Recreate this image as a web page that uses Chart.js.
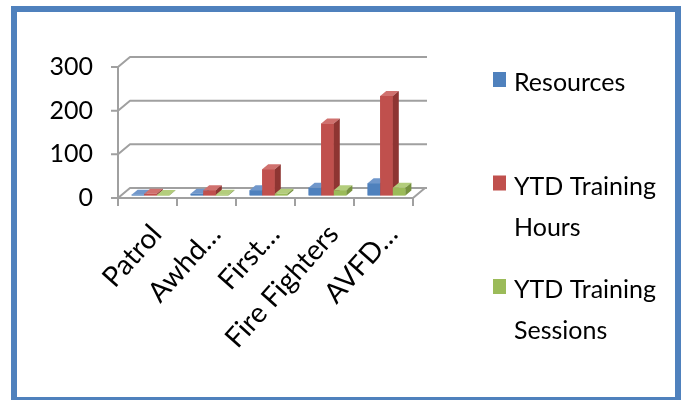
<!DOCTYPE html>
<html>
<head>
<meta charset="utf-8">
<script src="https://cdn.jsdelivr.net/npm/chart.js@4/dist/chart.umd.min.js"></script>
<style>
  body { margin: 0; background: #fff; }
  #wrap { position: relative; width: 683px; height: 400px; overflow: hidden; }
  #frame { position: absolute; left: 11px; top: 6px; width: 658px; height: 385px; border: 6px solid #4F81BD; }
  #wrap canvas { position: absolute; left: 0; top: 0; }
</style>
</head>
<body>
<div id="wrap">
  <div id="frame"></div>
  <canvas id="myChart" width="683" height="400"></canvas>
</div>
<script>
const categories = ["Patrol", "Awhd…", "First…", "Fire Fighters", "AVFD…"];
const resources = [2, 4, 12, 18, 28];
const trainingHours = [4, 12, 60, 165, 228];
const trainingSessions = [1, 2, 4, 12, 18];
const yTicks = [0, 100, 200, 300];

const gridColor = "#A0A0A0";
const depth = { dx: 12, dy: 10 };

// darker side / lighter top for the fake 3D
const shades = {
    "#4F81BD": { side: "#3A6394", top: "#7097CB" },
    "#C0504D": { side: "#8E3532", top: "#D0716E" },
    "#9BBB59": { side: "#76923F", top: "#B3CD7C" },
};

const frame3d = {
    id: "frame3d",
    beforeDatasetsDraw(chart) {
        const { ctx, chartArea: a, scales: { x, y } } = chart;
        ctx.save();
        ctx.strokeStyle = gridColor;
        ctx.lineWidth = 2;
        ctx.lineJoin = "round";
        // back wall grid lines, with the little slant on the side wall
        y.ticks.forEach((t) => {
            const py = y.getPixelForValue(t.value);
            ctx.beginPath();
            ctx.moveTo(a.left - 7, py);
            ctx.lineTo(a.left, py);
            ctx.lineTo(a.left + depth.dx, py - depth.dy);
            ctx.lineTo(a.right + depth.dx + 2, py - depth.dy);
            ctx.stroke();
        });
        // y axis
        ctx.beginPath();
        ctx.moveTo(a.left, y.getPixelForValue(yTicks[yTicks.length - 1]));
        ctx.lineTo(a.left, a.bottom);
        ctx.stroke();
        // floor front and right edge
        ctx.beginPath();
        ctx.moveTo(a.left, a.bottom);
        ctx.lineTo(a.right, a.bottom);
        ctx.lineTo(a.right + depth.dx, a.bottom - depth.dy);
        ctx.stroke();
        // x ticks on category boundaries
        for (let i = 0; i <= categories.length; i++) {
            const px = Math.round(x.getPixelForValue(i - 0.5));
            ctx.beginPath();
            ctx.moveTo(px, a.bottom);
            ctx.lineTo(px, a.bottom + 8);
            ctx.stroke();
        }
        ctx.restore();
        ctx.save();
        ctx.translate(depth.dx / 4, -depth.dy / 4);
    },
    afterDatasetsDraw(chart) {
        const { ctx } = chart;
        const bdx = depth.dx / 2, bdy = depth.dy / 2;
        for (let c = 0; c < categories.length; c++) {
            chart.data.datasets.forEach((ds, i) => {
                const bar = chart.getDatasetMeta(i).data[c];
                const { x, y, base, width } = bar.getProps(["x", "y", "base", "width"], true);
                const l = x - width / 2, r = x + width / 2;
                const col = ds.backgroundColor;
                ctx.fillStyle = col;
                ctx.fillRect(l, y, width, base - y);
                ctx.fillStyle = shades[col].top;
                ctx.beginPath();
                ctx.moveTo(l, y);
                ctx.lineTo(l + bdx, y - bdy);
                ctx.lineTo(r + bdx, y - bdy);
                ctx.lineTo(r, y);
                ctx.closePath();
                ctx.fill();
                ctx.fillStyle = shades[col].side;
                ctx.beginPath();
                ctx.moveTo(r, y);
                ctx.lineTo(r + bdx, y - bdy);
                ctx.lineTo(r + bdx, base - bdy);
                ctx.lineTo(r, base);
                ctx.closePath();
                ctx.fill();
            });
        }
        ctx.restore();
    },
    afterDraw(chart) {
        // legend on the right, evenly spaced like Excel does it
        const { ctx } = chart;
        ctx.save();
        ctx.font = "25px Lato, 'Liberation Sans', sans-serif";
        ctx.textBaseline = "alphabetic";
        chart.data.datasets.forEach((ds, i) => {
            const baseY = 91 + i * 103.5;
            ctx.fillStyle = ds.backgroundColor;
            ctx.fillRect(493, baseY - 19, 13, 15);
            const words = ds.label.split(" ");
            const lines = [];
            let line = "";
            words.forEach((w) => {
                const test = line ? line + " " + w : w;
                if (line && ctx.measureText(test).width > 145) {
                    lines.push(line);
                    line = w;
                } else {
                    line = test;
                }
            });
            lines.push(line);
            ctx.fillStyle = "#000";
            lines.forEach((t, k) => ctx.fillText(t, 514, baseY + k * 41));
        });
        ctx.restore();
    },
};

const ctx = document.getElementById("myChart").getContext("2d");
const myChart = new Chart(ctx, {
    type: "bar",
    data: {
        labels: categories,
        datasets: [
            { label: "Resources", data: resources, backgroundColor: "#4F81BD" },
            { label: "YTD Training Hours", data: trainingHours, backgroundColor: "#C0504D" },
            { label: "YTD Training Sessions", data: trainingSessions, backgroundColor: "#9BBB59" },
        ],
    },
    options: {
        responsive: false,
        animation: false,
        layout: { padding: { left: 0, right: 270, top: 67, bottom: 0 } },
        datasets: { bar: { categoryPercentage: 0.64, barPercentage: 1.0 } },
        plugins: { legend: { display: false }, tooltip: { enabled: false } },
        scales: {
            x: {
                grid: { display: false },
                border: { display: false },
                ticks: {
                    autoSkip: false,
                    minRotation: 48,
                    maxRotation: 48,
                    padding: 12,
                    labelOffset: 9,
                    color: "#000",
                    font: { family: "Lato, 'Liberation Sans', sans-serif", size: 28 },
                },
                afterFit(scale) { scale.height = 202; },
            },
            y: {
                min: 0,
                max: 300,
                afterBuildTicks(scale) { scale.ticks = yTicks.map((v) => ({ value: v })); },
                grid: { display: false },
                border: { display: false },
                ticks: {
                    padding: 17,
                    color: "#000",
                    font: { family: "Lato, 'Liberation Sans', sans-serif", size: 25 },
                },
                afterFit(scale) { scale.width = 118; },
            },
        },
    },
    plugins: [frame3d],
});
</script>
</body>
</html>
